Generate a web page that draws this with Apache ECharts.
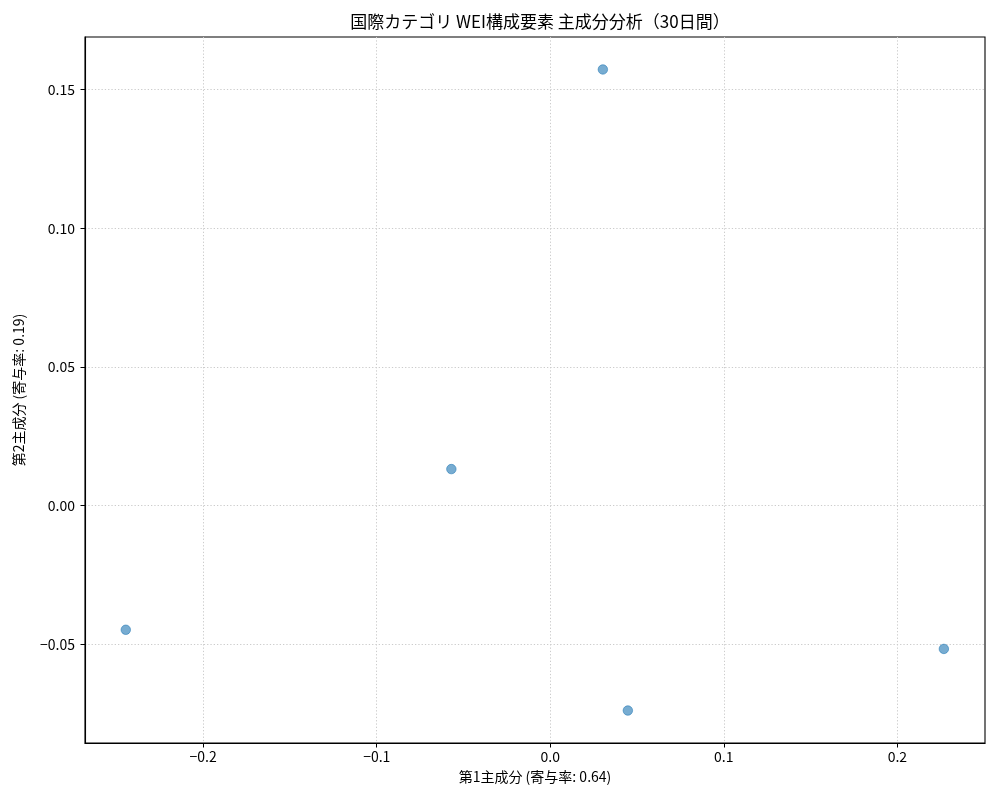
<!DOCTYPE html>
<html>
<head>
<meta charset="utf-8">
<script src="https://cdn.jsdelivr.net/npm/echarts@6/dist/echarts.min.js"></script>
<style>
html,body{margin:0;padding:0;background:#fff;}
#main{width:1000px;height:800px;}
</style>
</head>
<body>
<div id="main"></div>
<script>
const titleText = '国際カテゴリ WEI構成要素 主成分分析（30日間）';
const xName = '第1主成分 (寄与率: 0.64)';
const yName = '第2主成分 (寄与率: 0.19)';
const pc1 = [0.0303, -0.0570, -0.2446, 0.2268, 0.0447];
const pc2 = [0.1572, 0.0132, -0.0447, -0.0516, -0.0738];
const xTicks = [-0.2, -0.1, 0.0, 0.1, 0.2];
const yTicks = [-0.05, 0.00, 0.05, 0.10, 0.15];
const xRange = [-0.2681, 0.2505];
const yRange = [-0.0855, 0.1689];

const FONT = '"Noto Sans CJK JP", "DejaVu Sans", sans-serif';
const fmt = (d) => (v) => {
  const s = Number(v).toFixed(d);
  return s.replace('-', '\u2212');
};

const chart = echarts.init(document.getElementById('main'), null, {renderer: 'canvas'});
chart.setOption({
  animation: false,
  backgroundColor: '#ffffff',
  title: {
    text: titleText,
    left: 535,
    textAlign: 'center',
    top: 8,
    textStyle: {fontFamily: FONT, fontSize: 17, fontWeight: 'normal', color: '#000'}
  },
  grid: {
    left: 85, right: 15, top: 37, bottom: 57,
    show: true, borderColor: '#000', borderWidth: 1.1, backgroundColor: 'transparent'
  },
  xAxis: {
    type: 'value',
    min: xRange[0], max: xRange[1],
    name: xName,
    nameLocation: 'middle',
    nameGap: 27,
    nameTextStyle: {fontFamily: FONT, fontSize: 14, color: '#000'},
    axisLine: {show: true, onZero: false, lineStyle: {color: '#000', width: 1.1}},
    axisTick: {show: true, inside: false, length: 4.5, customValues: xTicks, lineStyle: {color: '#000', width: 1}},
    axisLabel: {show: true, margin: 7, customValues: xTicks, fontFamily: FONT, fontSize: 14, color: '#000', formatter: fmt(1)},
    splitLine: {show: true, lineStyle: {color: '#cccccc', type: [1.3, 2], width: 1}}
  },
  yAxis: {
    type: 'value',
    min: yRange[0], max: yRange[1],
    name: yName,
    nameLocation: 'middle',
    nameGap: 59,
    nameRotate: 90,
    nameTextStyle: {fontFamily: FONT, fontSize: 14, color: '#000'},
    axisLine: {show: true, onZero: false, lineStyle: {color: '#000', width: 1.1}},
    axisTick: {show: true, inside: false, length: 4.5, customValues: yTicks, lineStyle: {color: '#000', width: 1}},
    axisLabel: {show: true, margin: 10, customValues: yTicks, fontFamily: FONT, fontSize: 14, color: '#000', formatter: fmt(2)},
    splitLine: {show: true, lineStyle: {color: '#cccccc', type: [1.3, 2], width: 1}}
  },
  series: [{
    type: 'scatter',
    data: pc1.map((x, i) => [x, pc2[i]]),
    symbol: 'circle',
    symbolSize: 9.5,
    itemStyle: {color: 'rgba(31,119,180,0.76)', borderColor: 'rgba(31,119,180,0.85)', borderWidth: 0.8}
  }]
});
</script>
</body>
</html>
